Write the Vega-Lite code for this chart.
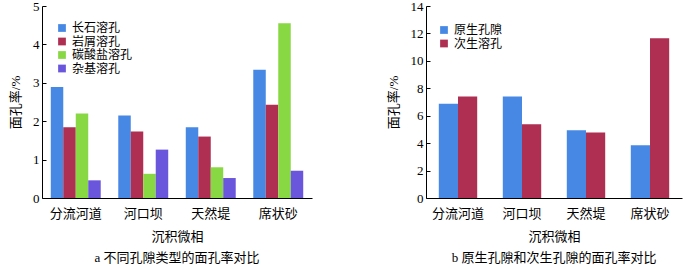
{
  "$schema": "https://vega.github.io/schema/vega-lite/v6.json",
  "padding": {"left": 9, "top": 0, "right": 5, "bottom": 0},
  "background": "white",
  "datasets": {
    "a": [
      {"相": "分流河道", "类型": "长石溶孔", "值": 2.89},
      {"相": "分流河道", "类型": "岩屑溶孔", "值": 1.84},
      {"相": "分流河道", "类型": "碳酸盐溶孔", "值": 2.2},
      {"相": "分流河道", "类型": "杂基溶孔", "值": 0.46},
      {"相": "河口坝", "类型": "长石溶孔", "值": 2.15},
      {"相": "河口坝", "类型": "岩屑溶孔", "值": 1.73},
      {"相": "河口坝", "类型": "碳酸盐溶孔", "值": 0.63},
      {"相": "河口坝", "类型": "杂基溶孔", "值": 1.26},
      {"相": "天然堤", "类型": "长石溶孔", "值": 1.84},
      {"相": "天然堤", "类型": "岩屑溶孔", "值": 1.6},
      {"相": "天然堤", "类型": "碳酸盐溶孔", "值": 0.8},
      {"相": "天然堤", "类型": "杂基溶孔", "值": 0.52},
      {"相": "席状砂", "类型": "长石溶孔", "值": 3.34},
      {"相": "席状砂", "类型": "岩屑溶孔", "值": 2.43},
      {"相": "席状砂", "类型": "碳酸盐溶孔", "值": 4.55},
      {"相": "席状砂", "类型": "杂基溶孔", "值": 0.71}
    ],
    "b": [
      {"相": "分流河道", "类型": "原生孔隙", "值": 6.87},
      {"相": "分流河道", "类型": "次生溶孔", "值": 7.4},
      {"相": "河口坝", "类型": "原生孔隙", "值": 7.4},
      {"相": "河口坝", "类型": "次生溶孔", "值": 5.38},
      {"相": "天然堤", "类型": "原生孔隙", "值": 4.94},
      {"相": "天然堤", "类型": "次生溶孔", "值": 4.77},
      {"相": "席状砂", "类型": "原生孔隙", "值": 3.85},
      {"相": "席状砂", "类型": "次生溶孔", "值": 11.64}
    ]
  },
  "spacing": 75,
  "resolve": {"scale": {"color": "independent", "xOffset": "independent", "x": "independent", "y": "independent"}, "legend": {"color": "independent"}},
  "hconcat": [
    {
      "width": 270,
      "height": 192,
      "data": {"name": "a"},
      "title": {"text": "a  不同孔隙类型的面孔率对比", "orient": "bottom", "offset": 9},
      "mark": {"type": "bar"},
      "encoding": {
        "x": {
          "field": "相", "type": "nominal",
          "sort": ["分流河道", "河口坝", "天然堤", "席状砂"],
          "scale": {"paddingInner": 0.26, "paddingOuter": 0.13},
          "axis": {"title": "沉积微相", "labelAngle": 0, "ticks": false, "labelPadding": 9, "titlePadding": 10}
        },
        "xOffset": {"field": "类型", "type": "nominal", "sort": ["长石溶孔", "岩屑溶孔", "碳酸盐溶孔", "杂基溶孔"], "scale": {"paddingInner": 0, "paddingOuter": 0}},
        "y": {
          "field": "值", "type": "quantitative",
          "scale": {"domain": [0, 5], "nice": false},
          "axis": {"title": "面孔率/%", "values": [0, 1, 2, 3, 4, 5], "tickSize": -4, "labelPadding": 7, "titlePadding": 10}
        },
        "color": {
          "field": "类型", "type": "nominal",
          "sort": ["长石溶孔", "岩屑溶孔", "碳酸盐溶孔", "杂基溶孔"],
          "scale": {"domain": ["长石溶孔", "岩屑溶孔", "碳酸盐溶孔", "杂基溶孔"], "range": ["#4688e4", "#ae2f52", "#88d844", "#6a55dd"]},
          "legend": {"title": null, "orient": "none", "legendX": 14, "legendY": 16, "symbolType": "square", "symbolSize": 60, "rowPadding": 1.5, "labelFontSize": 12}
        }
      }
    },
    {
      "width": 256,
      "height": 192,
      "data": {"name": "b"},
      "title": {"text": "b  原生孔隙和次生孔隙的面孔率对比", "orient": "bottom", "offset": 9},
      "mark": {"type": "bar"},
      "encoding": {
        "x": {
          "field": "相", "type": "nominal",
          "sort": ["分流河道", "河口坝", "天然堤", "席状砂"],
          "scale": {"paddingInner": 0.4, "paddingOuter": 0.2},
          "axis": {"title": "沉积微相", "labelAngle": 0, "ticks": false, "labelPadding": 9, "titlePadding": 10}
        },
        "xOffset": {"field": "类型", "type": "nominal", "sort": ["原生孔隙", "次生溶孔"], "scale": {"paddingInner": 0, "paddingOuter": 0}},
        "y": {
          "field": "值", "type": "quantitative",
          "scale": {"domain": [0, 14], "nice": false},
          "axis": {"title": "面孔率/%", "values": [0, 2, 4, 6, 8, 10, 12, 14], "tickSize": -4, "labelPadding": 7, "titlePadding": 10}
        },
        "color": {
          "field": "类型", "type": "nominal",
          "sort": ["原生孔隙", "次生溶孔"],
          "scale": {"domain": ["原生孔隙", "次生溶孔"], "range": ["#4688e4", "#ae2f52"]},
          "legend": {"title": null, "orient": "none", "legendX": 12, "legendY": 18, "symbolType": "square", "symbolSize": 60, "rowPadding": 1.5, "labelFontSize": 12}
        }
      }
    }
  ],
  "config": {
    "font": "Liberation Serif, Noto Sans CJK SC",
    "view": {"stroke": null},
    "axis": {
      "grid": false,
      "domainColor": "#000",
      "domainWidth": 1,
      "tickColor": "#000",
      "labelColor": "#000",
      "titleColor": "#000",
      "labelFontSize": 13,
      "titleFontSize": 13,
      "titleFontWeight": "normal",
      "labelFont": "Liberation Serif, Noto Sans CJK SC",
      "titleFont": "Liberation Serif, Noto Sans CJK SC"
    },
    "legend": {"labelColor": "#000", "labelFont": "Liberation Serif, Noto Sans CJK SC"},
    "title": {"fontSize": 13, "fontWeight": "normal", "color": "#000", "font": "Liberation Serif, Noto Sans CJK SC", "anchor": "middle"}
  }
}
